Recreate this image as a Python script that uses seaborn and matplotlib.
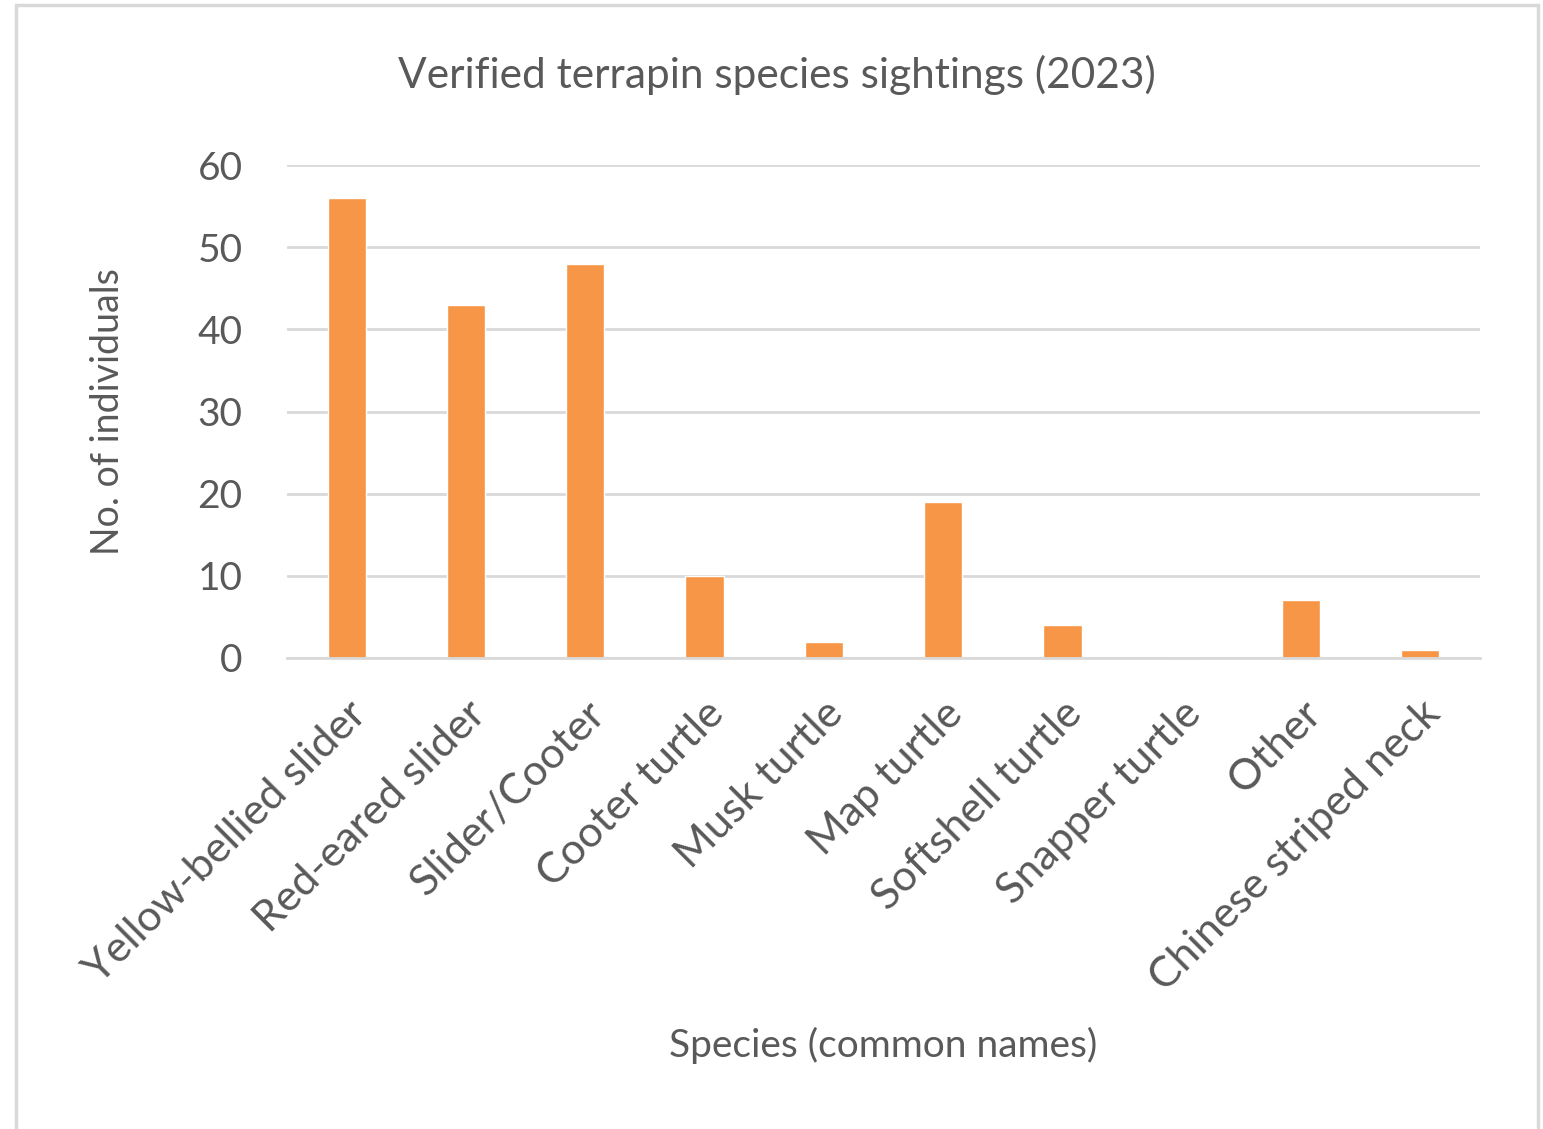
import matplotlib
matplotlib.use("Agg")
import matplotlib.pyplot as plt
import seaborn as sns
import pandas as pd
from matplotlib.patches import Rectangle

species = ["Yellow-bellied slider", "Red-eared slider", "Slider/Cooter", "Cooter turtle",
           "Musk turtle", "Map turtle", "Softshell turtle", "Snapper turtle", "Other",
           "Chinese striped neck"]
counts = [56, 43, 48, 10, 2, 19, 4, 0, 7, 1]
yticks = [0, 10, 20, 30, 40, 50, 60]

title = "Verified terrapin species sightings (2023)"
xlabel = "Species (common names)"
ylabel = "No. of individuals"

sns.set_theme(style="white")
plt.rcParams['font.family'] = ['Lato', 'DejaVu Sans']

TXT = "#595959"
BAR = "#F79646"

fig = plt.figure(figsize=(15.43, 11.29), dpi=100)
ax = fig.add_axes([287/1543, 1-658/1129, (1480-287)/1543, (658-165)/1129])

df = pd.DataFrame({"species": species, "count": counts})
sns.barplot(data=df, x="species", y="count", color=BAR, width=0.32,
            saturation=1, ax=ax, order=species)

ax.set_ylim(0, 60)
ax.set_xlim(-0.5, len(species) - 0.5)
ax.set_yticks(yticks)
ax.set_yticklabels([str(v) for v in yticks], fontsize=28, color=TXT)
ax.yaxis.grid(True, color="#D9D9D9", linewidth=2)
ax.set_axisbelow(True)
for s in ["top", "right", "left"]:
    ax.spines[s].set_visible(False)
ax.spines["bottom"].set_color("#D9D9D9")
ax.spines["bottom"].set_linewidth(2)
ax.tick_params(axis="y", length=0, pad=32)
ax.tick_params(axis="x", length=0, pad=26)

ax.set_xticks(range(len(species)))
ax.set_xticklabels(species, rotation=45, ha="right", rotation_mode="anchor",
                   fontsize=31, color=TXT)

ax.set_xlabel(xlabel, fontsize=28, color=TXT)
ax.set_ylabel(ylabel, fontsize=27, color=TXT)
ax.xaxis.set_label_coords((883-287)/(1480-287), 1 - (1045-165)/(658-165))
ax.yaxis.set_label_coords((108-287)/(1480-287), (658-412)/(658-165))
ax.xaxis.label.set_va("center")
ax.yaxis.label.set_va("center")

fig.text(777/1543, 1-75/1129, title, ha="center", va="center", fontsize=30.5, color=TXT)

fig.patches.append(Rectangle((16/1543, -0.05), (1538-16)/1543, 1.05 - 5/1129,
                             transform=fig.transFigure, fill=False,
                             edgecolor="#D9D9D9", linewidth=2.5))

fig.savefig("out.png", dpi=100, facecolor="white")
